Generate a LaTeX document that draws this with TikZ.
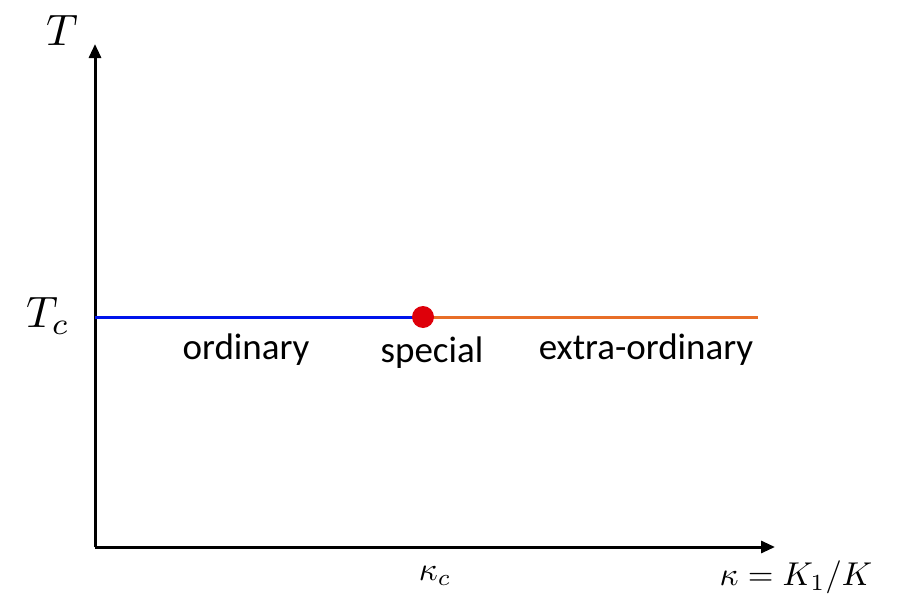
\documentclass[tikz,border=0pt]{standalone}
\usepackage{amsmath,fontspec}
\newfontfamily\labelfont{Carlito}
\usetikzlibrary{arrows.meta}
\definecolor{ordblue}{RGB}{0,20,235}
\definecolor{extorange}{RGB}{232,110,40}
\definecolor{specred}{RGB}{222,0,10}
\tikzset{axis/.style={line width=3pt,-{Triangle[length=14pt,width=12pt]}},
  phase/.style={font=\labelfont\fontsize{37}{44}\selectfont},
  bigmath/.style={scale=4.4},
  axmath/.style={scale=3.3}}

\begin{document}
\begin{tikzpicture}[x=1pt,y=-1pt,every node/.style={inner sep=0pt}]
\useasboundingbox (0,0) rectangle (898,605);
\coordinate (o) at (95,547);
\coordinate (ytop) at (95,44);
\coordinate (xend) at (775,547);
\coordinate (tcl) at (95,317);
\coordinate (kc) at (423,317);
\coordinate (tcr) at (758,317);
\draw[axis] (o)--(ytop);
\draw[axis] (o)--(xend);
\draw[line width=3pt,ordblue] (tcl)--(kc);
\draw[line width=3pt,extorange] (kc)--(tcr);
\fill[specred] (kc) circle (11pt);
\node[bigmath] (tlab) at (62,30) {$T$};
\node[bigmath] (tclab) at (48,316) {$T_c$};
\node[axmath] (kclab) at (435,576) {$\kappa_c$};
\node[axmath] (kxlab) at (796,577) {$\kappa = K_1/K$};
\node[phase] (ord) at (246,350) {ordinary};
\node[phase] (spec) at (432,353) {special};
\node[phase] (xord) at (646,350) {extra-ordinary};
\end{tikzpicture}
\end{document}
